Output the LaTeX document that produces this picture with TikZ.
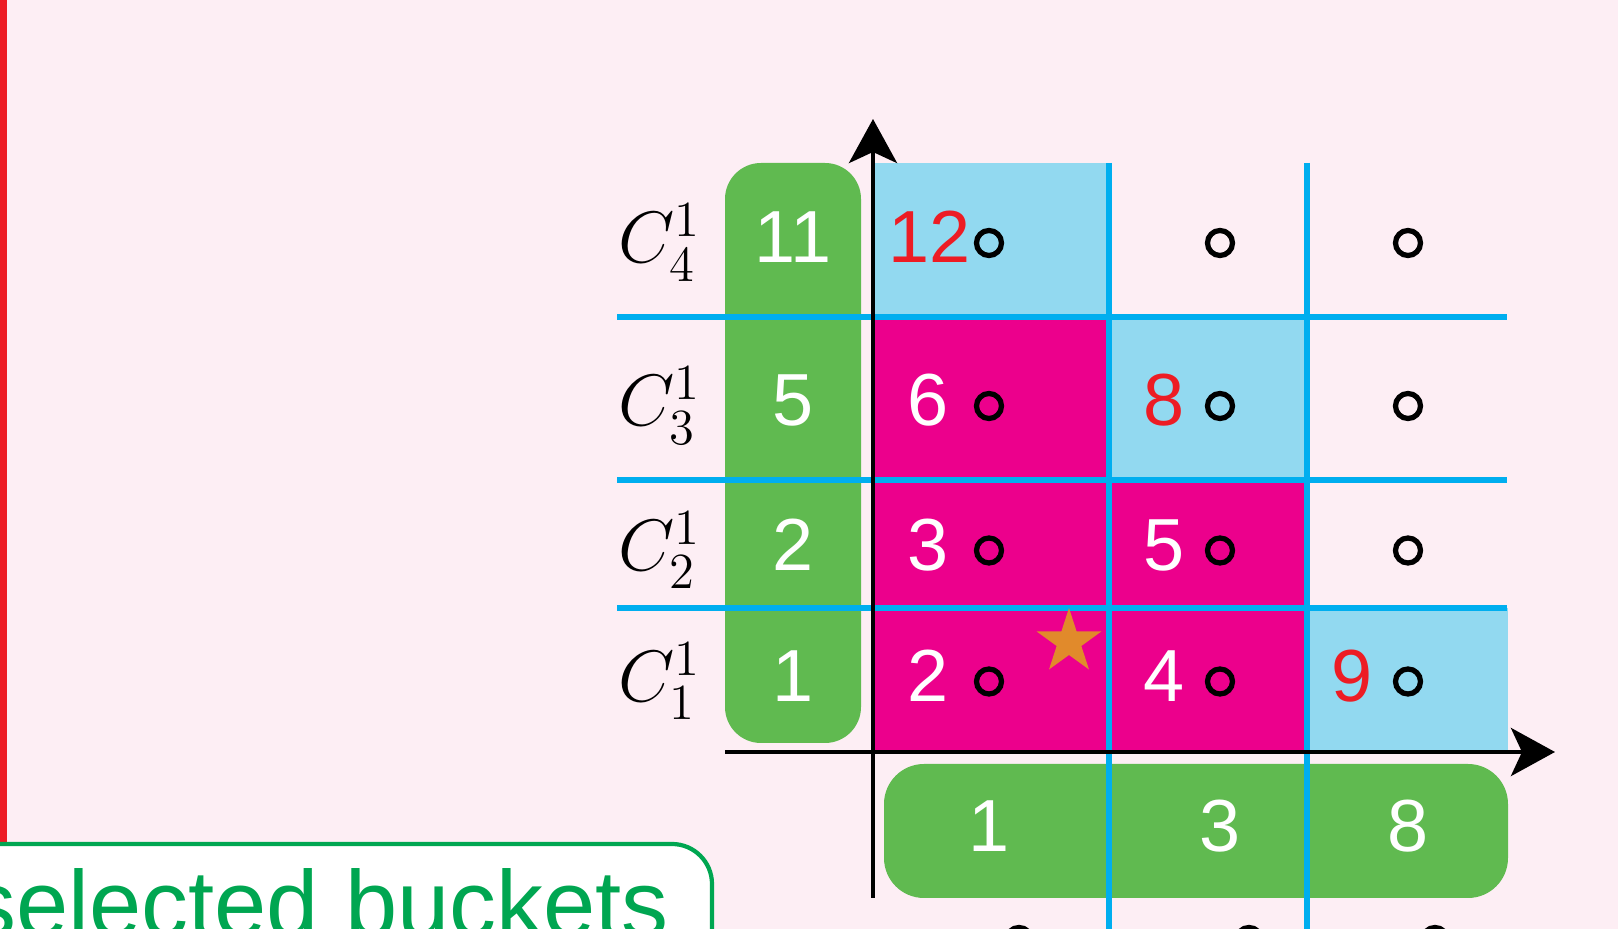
\documentclass[tikz,border=0pt]{standalone}
\usepackage{fontspec}
\setsansfont{Liberation Sans}
\usepackage{tikz}
\usetikzlibrary{arrows.meta,positioning,shapes.geometric}
\definecolor{bkPink}{HTML}{FDEEF4}
\definecolor{bkGreen}{HTML}{60BA50}
\definecolor{bkMagenta}{HTML}{EC008C}
\definecolor{bkSky}{HTML}{92D9F0}
\definecolor{bkBlue}{HTML}{00AEEF}
\definecolor{bkRed}{HTML}{ED1C24}
\definecolor{bkDeep}{HTML}{00A651}
\definecolor{bkOrange}{HTML}{E18A2B}

\begin{document}
\begin{tikzpicture}[font=\sffamily\fontsize{21}{25}\selectfont,
  >={Stealth[length=4.4mm,width=4.8mm,inset=1.1mm]},
  num/.style={anchor=base,inner sep=0pt,text=white},
  ring/.style={circle,draw=black,line width=1.5pt,minimum size=2.5mm,inner sep=0pt},
  gridline/.style={bkBlue,line width=1.6pt}]
  \useasboundingbox (0,0) rectangle (16.18,9.29);
  \clip (0,0) rectangle (16.18,9.29);
  \fill[bkPink] (0,0) rectangle (16.18,9.29);                  % background
  % left edge and legend box
  \draw[bkRed,line width=2pt] (0.035,9.4) -- (0.035,0.86);
  \draw[bkDeep,line width=1.2pt,fill=white,rounded corners=4mm] (-1,-1) rectangle (7.12,0.85);
  \node[anchor=base west,inner sep=0pt,text=bkDeep,font=\sffamily\fontsize{26.7}{30}\selectfont]
     (sel) at (-0.31,-0.08) {selected buckets};
  % cells
  \fill[bkSky] (8.73,6.12) rectangle (11.09,7.66);
  \fill[bkMagenta] (8.73,1.77) rectangle (11.09,6.12);
  \fill[bkSky] (11.09,4.49) rectangle (13.07,6.12);
  \fill[bkMagenta] (11.09,1.77) rectangle (13.07,4.49);
  \fill[bkSky] (13.07,1.77) rectangle (15.08,3.21);
  % green bars
  \fill[bkGreen,rounded corners=3.6mm] (7.25,1.86) rectangle (8.61,7.66);
  \fill[bkGreen,rounded corners=4mm] (8.84,0.31) rectangle (15.08,1.65);
  % grid
  \foreach \y in {6.12,4.49,3.21} \draw[gridline] (6.17,\y) -- (15.07,\y);
  \foreach \x in {11.09,13.07} \draw[gridline] (\x,7.66) -- (\x,-0.3);
  % axes
  \draw[->,line width=1.3pt] (8.73,0.31) -- (8.73,8.10);
  \draw[->,line width=1.3pt] (7.25,1.77) -- (15.55,1.77);
  % row labels and row sizes
  \foreach \y/\k/\n in {6.66/4/11, 5.03/3/5, 3.585/2/2, 2.275/1/1}{
    \node[anchor=base,inner sep=0pt] (c\k) at (6.60,\y) {$C^{1}_{\k}$};
    \node[num] (g\k) at (7.93,\y) {\n};}
  % column sizes
  \foreach \x/\n in {9.89/1, 12.20/3, 14.08/8}
    \node[num] (b\n) at (\x,0.77) {\n};
  % rings
  \foreach \y [count=\r] in {2.275,3.585,5.03,6.66}
    \foreach \x [count=\c] in {9.89,12.20,14.08}
      \node[ring] (r\r\c) at (\x,\y+0.20) {};
  \foreach \x [count=\c] in {10.19,12.49,14.35}
    \node[ring] (r0\c) at (\x,-0.11) {};
  % cell values
  \foreach \x/\y/\n/\col/\name in {9.30/6.66/12/bkRed/n41, 9.28/5.03/6/white/n31, 11.64/5.03/8/bkRed/n32,
      9.28/3.585/3/white/n21, 11.64/3.585/5/white/n22, 9.28/2.275/2/white/n11, 11.64/2.275/4/white/n12,
      13.52/2.275/9/bkRed/n13}
    \node[num,text=\col] (\name) at (\x,\y) {\n};
  \node[star,star points=5,star point ratio=2.618,minimum size=6.8mm,inner sep=0pt,fill=bkOrange] (best) at (10.69,2.87) {};
\end{tikzpicture}
\end{document}
